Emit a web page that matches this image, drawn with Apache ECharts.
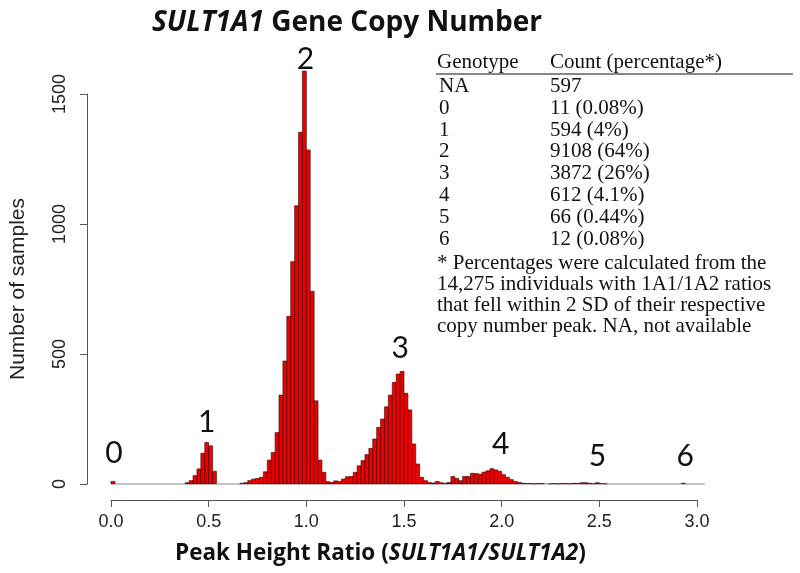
<!DOCTYPE html>
<html>
<head>
<meta charset="utf-8">
<script src="https://cdn.jsdelivr.net/npm/echarts@6/dist/echarts.min.js"></script>
<style>
  html, body { margin: 0; padding: 0; background: #fff; }
  #main { width: 800px; height: 573px; }
</style>
</head>
<body>
<div id="main"></div>
<script>
// histogram bins of width 0.02 starting at 0
const binWidth = 0.02;
const counts = [
  10, 0, 0, 0, 0, 0, 0, 0, 0, 0,
  0, 0, 0, 0, 0, 0, 0, 0, 0, 5,
  13, 32, 58, 118, 160, 147, 49, 0, 0, 0,
  0, 0, 0, 3, 5, 13, 19, 21, 26, 47,
  92, 121, 198, 342, 473, 645, 855, 1070, 1353, 1588,
  1285, 741, 320, 92, 45, 9, 6, 12, 10, 19,
  28, 29, 45, 70, 90, 113, 137, 173, 218, 250,
  297, 342, 391, 423, 433, 349, 285, 154, 77, 26,
  13, 6, 4, 10, 5, 3, 6, 29, 22, 13,
  29, 29, 41, 40, 38, 46, 51, 59, 54, 49,
  36, 26, 17, 10, 6, 3, 2, 2, 1, 2,
  2, 0, 1, 2, 1, 2, 2, 1, 3, 2,
  5, 5, 3, 1, 5, 2, 1, 0, 0, 0,
  0, 0, 0, 0, 0, 0, 0, 0, 0, 0,
  0, 0, 0, 0, 0, 0, 3, 0, 0, 0,
  0, 0
];

// copy-number labels over the peaks
const peakNames = ['0', '1', '2', '3', '4', '5', '6'];
const peakX = [0.015, 0.49, 0.995, 1.48, 1.995, 2.49, 2.94];
const peakY = [119, 238, 1635, 523, 154, 108, 108];

// table
const genotypes = ['NA', '0', '1', '2', '3', '4', '5', '6'];
const countText = ['597', '11 (0.08%)', '594 (4%)', '9108 (64%)', '3872 (26%)',
  '612 (4.1%)', '66 (0.44%)', '12 (0.08%)'];
const footnote = [
  '* Percentages were calculated from the',
  '14,275 individuals with 1A1/1A2 ratios',
  'that fell within 2 SD of their respective',
  'copy number peak. NA, not available'
];

const binData = counts.map((c, i) => [i * binWidth, (i + 1) * binWidth, c]);
const peakData = peakNames.map((n, i) => [peakX[i], peakY[i], n]);

const serif = 'Liberation Serif, Times New Roman, serif';
const tableFont = '21px ' + serif;
const graphics = [];
graphics.push({ type: 'text', left: 437, top: 52, style: { text: 'Genotype', font: tableFont, fill: '#111' } });
graphics.push({ type: 'text', left: 550, top: 52, style: { text: 'Count (percentage*)', font: tableFont, fill: '#111' } });
graphics.push({ type: 'line', shape: { x1: 436, y1: 74, x2: 793, y2: 74 }, style: { stroke: '#111', lineWidth: 1.2 } });
genotypes.forEach((g, i) => {
  const y = 76 + i * 21.8;
  graphics.push({ type: 'text', left: 439, top: y, style: { text: g, font: tableFont, fill: '#111' } });
  graphics.push({ type: 'text', left: 550, top: y, style: { text: countText[i], font: tableFont, fill: '#111' } });
});
footnote.forEach((t, j) => {
  graphics.push({ type: 'text', left: 437, top: 253 + j * 21, style: { text: t, font: tableFont, fill: '#111' } });
});

const chart = echarts.init(document.getElementById('main'));
chart.setOption({
  animation: false,
  backgroundColor: '#fff',
  title: [
    {
      text: '{i|SULT1A1} Gene Copy Number',
      left: 147, top: 4,
      textStyle: {
        fontFamily: 'Open Sans', fontWeight: 'bold', fontSize: 28, color: '#111',
        rich: { i: { fontFamily: 'Open Sans', fontStyle: 'italic', fontWeight: 'bold', fontSize: 28, color: '#111' } }
      }
    },
    {
      text: 'Peak Height Ratio ({i|SULT1A1/SULT1A2})',
      left: 170, top: 537,
      textStyle: {
        fontFamily: 'Open Sans', fontWeight: 'bold', fontSize: 22.5, color: '#111',
        rich: { i: { fontFamily: 'Open Sans', fontStyle: 'italic', fontWeight: 'bold', fontSize: 22.5, color: '#111' } }
      }
    }
  ],
  grid: { left: 109, right: 103, top: 94, bottom: 89 },
  xAxis: {
    type: 'value', min: 0, max: 3, interval: 0.5, offset: 16,
    splitLine: { show: false },
    axisLine: { show: true, onZero: false, lineStyle: { color: '#555', width: 1 } },
    axisTick: { show: true, length: 7, lineStyle: { color: '#555' } },
    axisLabel: { fontFamily: 'Liberation Sans, Arial', fontSize: 18, color: '#222', margin: 13,
      formatter: v => v.toFixed(1) }
  },
  yAxis: {
    type: 'value', min: 0, max: 1500, interval: 500, offset: 24,
    name: 'Number of samples', nameLocation: 'middle', nameRotate: 90, nameGap: 58,
    nameTextStyle: { fontFamily: 'Liberation Sans, Arial', fontSize: 21, color: '#222' },
    splitLine: { show: false },
    axisLine: { show: true, onZero: false, lineStyle: { color: '#555', width: 1 } },
    axisTick: { show: true, length: 7, lineStyle: { color: '#555' } },
    axisLabel: { fontFamily: 'Liberation Sans, Arial', fontSize: 18, color: '#222', rotate: 90, margin: 18,
      formatter: v => String(v) }
  },
  graphic: graphics,
  series: [
    {
      type: 'custom',
      clip: false,
      data: binData,
      encode: { x: [0, 1], y: 2 },
      renderItem: function (params, api) {
        const x0 = api.value(0), x1 = api.value(1), c = api.value(2);
        const p0 = api.coord([x0, 0]);
        const p1 = api.coord([x1, c]);
        if (c === 0) {
          return { type: 'line', shape: { x1: p0[0], y1: p0[1], x2: p1[0], y2: p0[1] },
            style: { stroke: '#888', lineWidth: 1 } };
        }
        return {
          type: 'rect',
          shape: { x: p0[0], y: p1[1], width: p1[0] - p0[0], height: p0[1] - p1[1] },
          style: { fill: '#ee0000', stroke: '#3a0000', lineWidth: 0.6 }
        };
      }
    },
    {
      type: 'custom',
      clip: false,
      data: peakData,
      renderItem: function (params, api) {
        const p = api.coord([api.value(0), api.value(1)]);
        return {
          type: 'text', x: p[0], y: p[1],
          style: { text: peakNames[params.dataIndex], font: '30px Lato', fill: '#111',
            align: 'center', verticalAlign: 'middle' }
        };
      }
    }
  ]
});
</script>
</body>
</html>
